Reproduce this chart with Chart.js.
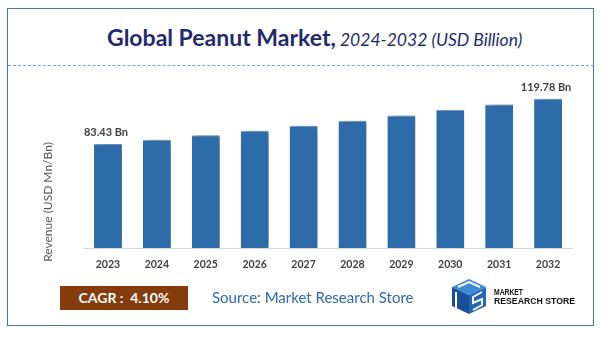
<!DOCTYPE html>
<html>
<head>
<meta charset="utf-8">
<script src="https://cdn.jsdelivr.net/npm/chart.js@4/dist/chart.umd.min.js"></script>
<style>
  body { margin: 0; background: #fff; }
  #wrap { position: relative; width: 603px; height: 337px; overflow: hidden; font-family: Lato, "Open Sans", sans-serif; }
  #frame { position: absolute; left: 7px; top: 8px; width: 587px; height: 318px; border: 1.5px solid #4a74a3; box-sizing: border-box; }
  #title { position: absolute; left: 107px; top: 23px; white-space: nowrap; color: #1f2b6d; }
  #title b { font-size: 23px; font-weight: 700; }
  #title i { font-size: 17.5px; font-weight: 400; }
  #dash { position: absolute; left: 8px; width: 586px; top: 65px; height: 0; border-top: 1.2px dashed #7f9fd3; }
  #cagr { position: absolute; left: 60px; top: 286px; width: 128px; height: 24px; background: #843c0c; color: #fff;
          font-weight: 700; font-size: 14px; line-height: 24px; text-align: center; }
  #source { position: absolute; left: 212px; top: 288px; font-size: 15px; color: #2e6aa6; white-space: nowrap; }
  #logo { position: absolute; left: 450px; top: 278px; }
  canvas { position: absolute; left: 0; top: 0; }
</style>
</head>
<body>
<div id="wrap">
  <div id="frame"></div>
  <div id="title"><b>Global Peanut Market,</b> <i>2024-2032 (USD Billion)</i></div>
  <div id="dash"></div>
  <canvas id="chart1" width="603" height="337"></canvas>
  <div id="cagr">CAGR :&nbsp; 4.10%</div>
  <div id="source">Source: Market Research Store</div>
  <svg id="logo" width="140" height="40" viewBox="0 0 140 40">
    <polygon points="2,9 19,1 36,9 19,17" fill="#3b8bd8"/>
    <polygon points="2,9 19,17 19,36 2,28" fill="#1b4f9a"/>
    <polygon points="19,17 36,9 36,28 19,36" fill="#2467b6"/>
    <polyline points="8,9 19,4 30,9" fill="none" stroke="#fff" stroke-width="2"/>
    <polyline points="6,14 6,30" fill="none" stroke="#fff" stroke-width="2"/>
    <polyline points="32,14 23,19 23,25 32,21 32,27 23,32" fill="none" stroke="#fff" stroke-width="2"/>
    <text x="44" y="17" font-family="Liberation Sans, Arial, sans-serif" font-weight="700" font-size="9.5" fill="#111"
          textLength="29" lengthAdjust="spacingAndGlyphs">MARKET</text>
    <text x="44" y="26" font-family="Liberation Sans, Arial, sans-serif" font-weight="700" font-size="9.5" fill="#111"
          textLength="81" lengthAdjust="spacingAndGlyphs">RESEARCH STORE</text>
  </svg>
</div>

<script>
// years and market size (USD Billion)
const years = ['2023', '2024', '2025', '2026', '2027', '2028', '2029', '2030', '2031', '2032'];
const revenue = [83.43, 86.8, 90.5, 94.1, 98.0, 102.0, 106.2, 110.6, 115.2, 119.78];
// only the first and last bar get a value label
const labelled = [0, 9];
const yTitle = 'Revenue (USD Mn/Bn)';

//shadow on the right side of the bars
const barShadow = {
    id: 'barShadow',
    beforeDatasetDraw(chart) {
        const ctx = chart.ctx;
        ctx.save();
        ctx.shadowColor = 'rgba(0,0,0,0.5)';
        ctx.shadowBlur = 6;
        ctx.shadowOffsetX = 4;
        ctx.shadowOffsetY = 1;
    },
    afterDatasetDraw(chart) {
        chart.ctx.restore();
    }
};

//value labels + rotated axis title
const extras = {
    id: 'extras',
    afterDraw(chart) {
        const ctx = chart.ctx;
        const bars = chart.getDatasetMeta(0).data;
        ctx.save();
        ctx.font = 'bold 11px Lato, sans-serif';
        ctx.fillStyle = '#404040';
        ctx.textAlign = 'center';
        ctx.textBaseline = 'alphabetic';
        labelled.forEach(i => {
            ctx.fillText(revenue[i].toFixed(2) + ' Bn', bars[i].x - 2, bars[i].y - 8);
        });

        ctx.font = '12px Lato, sans-serif';
        ctx.fillStyle = '#595959';
        ctx.translate(48.5, 202);
        ctx.rotate(-Math.PI / 2);
        ctx.textBaseline = 'middle';
        ctx.fillText(yTitle, 0, 0);
        ctx.restore();
    }
};

const data = {
    labels: years,
    datasets: [{
        data: revenue,
        backgroundColor: '#2e6ca9',
        borderColor: '#86aedb',
        borderWidth: { top: 1, left: 0, right: 0, bottom: 0 },
        borderSkipped: 'bottom',
        categoryPercentage: 1,
        barPercentage: 0.57
    }]
};

const config = {
    type: 'bar',
    data: data,
    options: {
        responsive: false,
        animation: false,
        layout: {
            padding: { left: 83.5, right: 30.5, top: 61, bottom: 49 }
        },
        plugins: {
            legend: { display: false },
            tooltip: { enabled: false }
        },
        scales: {
            x: {
                grid: { display: false },
                border: { color: '#d9d9d9', width: 1 },
                ticks: {
                    color: '#404040',
                    font: { family: 'Lato', size: 10.5, weight: 'bold' },
                    padding: 2
                },
                afterFit: s => { s.height = 40; }
            },
            y: {
                display: false,
                min: 0,
                max: 150
            }
        }
    },
    plugins: [barShadow, extras]
};

const Chart1 = new Chart(document.getElementById('chart1'), config);
</script>
</body>
</html>
